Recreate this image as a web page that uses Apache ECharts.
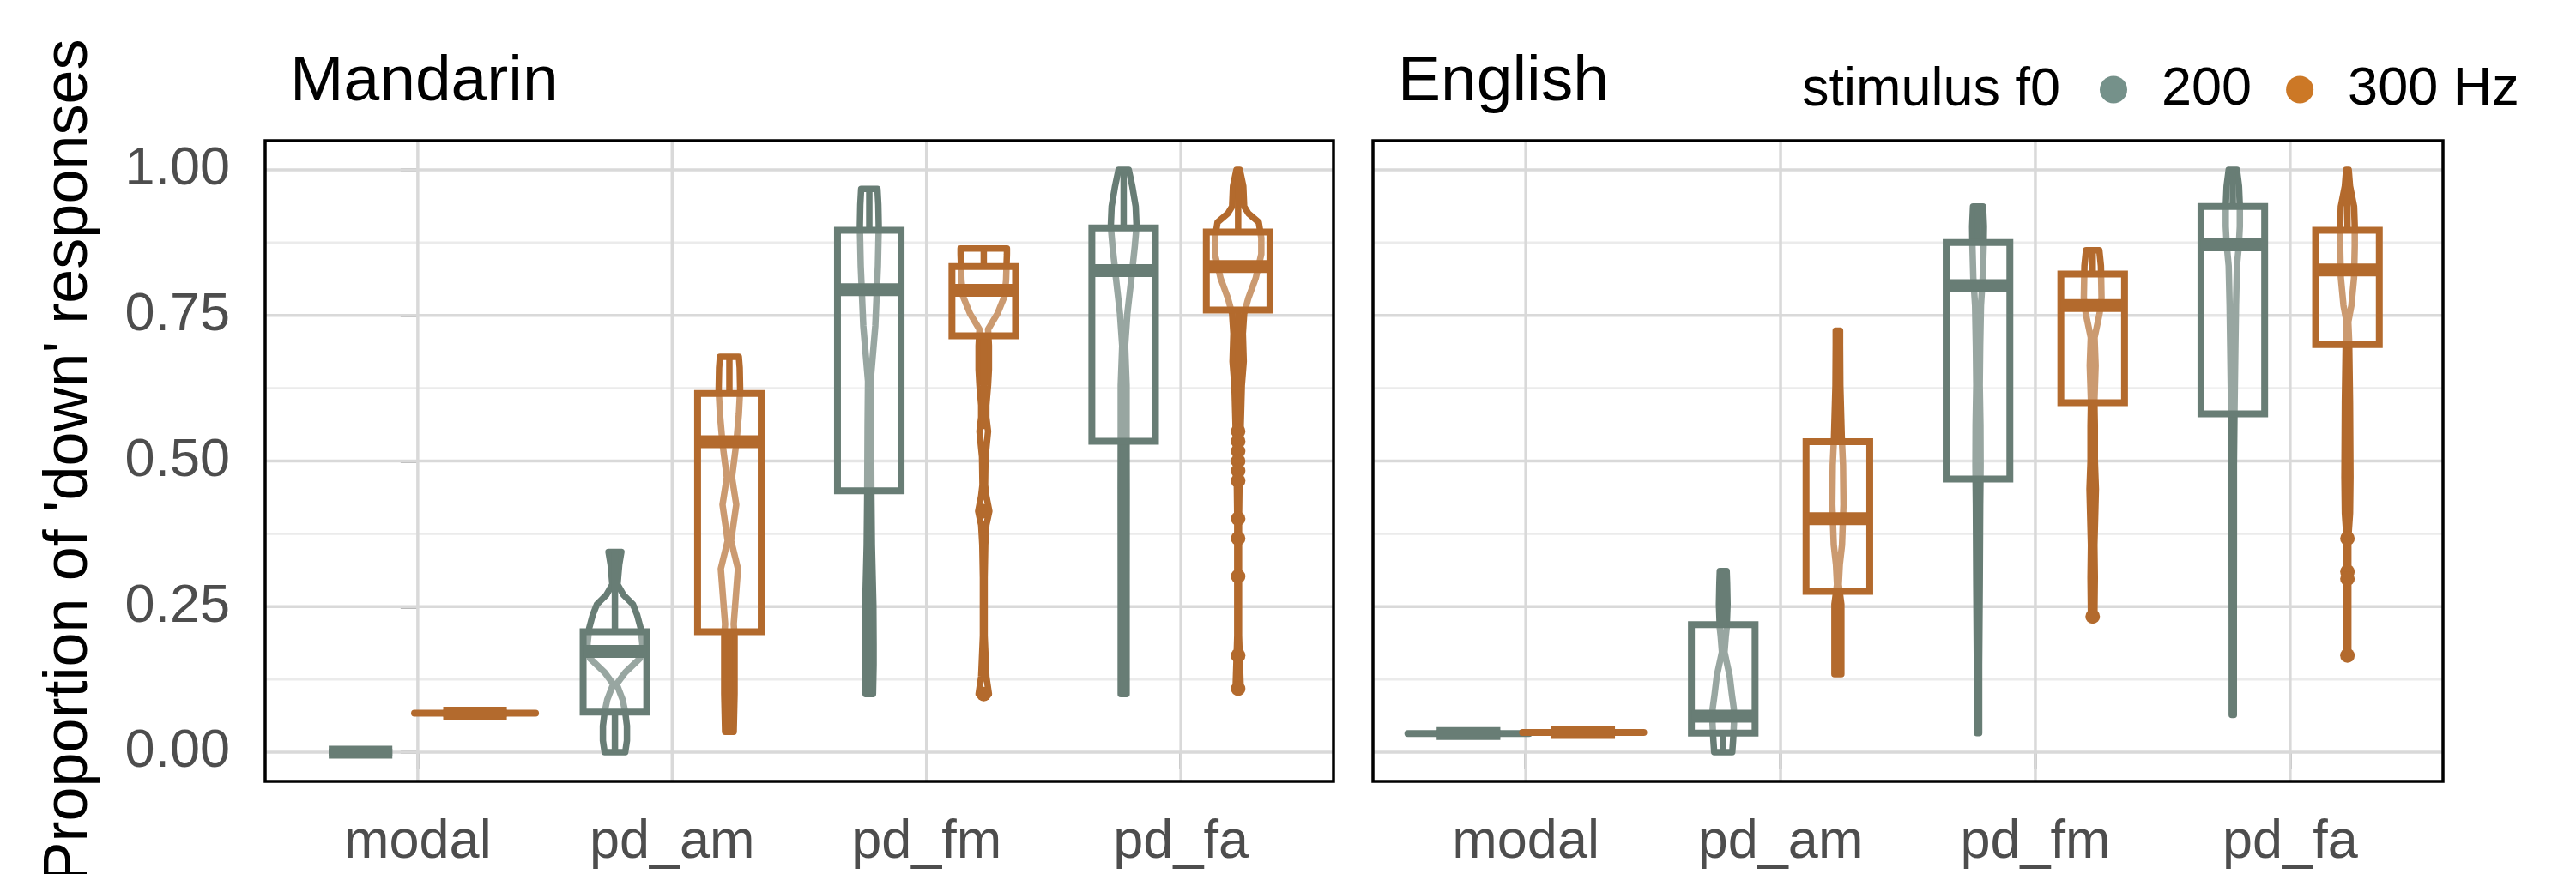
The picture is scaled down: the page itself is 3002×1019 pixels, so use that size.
<!DOCTYPE html>
<html>
<head>
<meta charset="utf-8">
<script src="https://cdn.jsdelivr.net/npm/echarts@6/dist/echarts.min.js"></script>
<style>
html,body{margin:0;padding:0;background:#ffffff;}
#chart{width:3002px;height:1019px;}
</style>
</head>
<body>
<div id="chart"></div>
<script>
// ---------------- DATA ----------------
const categories = ['modal', 'pd_am', 'pd_fm', 'pd_fa'];
const panels = ['Mandarin', 'English'];
const frequencies = ['200', '300 Hz'];
const yTicks = [0, 0.25, 0.5, 0.75, 1];
const yMinorTicks = [0.125, 0.375, 0.625, 0.875];
const xLimits = [-0.6, 3.6];
const yLimits = [-0.05, 1.05];

// box stats per category: [lower whisker, Q1, median, Q3, upper whisker]
const mandarin200Box = [[0, 0, 0, 0, 0], [0, 0.069, 0.173, 0.207, 0.344], [0.1, 0.449, 0.794, 0.896, 0.967], [0.1, 0.534, 0.827, 0.900, 1.0]];
const mandarin300Box = [[0.067, 0.067, 0.067, 0.067, 0.067], [0.035, 0.207, 0.533, 0.616, 0.679], [0.555, 0.715, 0.793, 0.834, 0.865], [0.565, 0.759, 0.834, 0.893, 1.0]];
const english200Box = [[0.032, 0.032, 0.032, 0.032, 0.032], [0, 0.033, 0.062, 0.219, 0.311], [0.033, 0.469, 0.801, 0.875, 0.937], [0.064, 0.581, 0.871, 0.937, 1.0]];
const english300Box = [[0.034, 0.034, 0.034, 0.034, 0.034], [0.134, 0.276, 0.401, 0.533, 0.724], [0.28, 0.600, 0.767, 0.821, 0.862], [0.41, 0.700, 0.828, 0.896, 1.0]];

// violin profiles per category: [value, relative density half-width]
const mandarin200Violin = [
  null,
  [[0, 12], [0.02, 14], [0.045, 14], [0.069, 12], [0.09, 9], [0.117, 2], [0.137, 12], [0.161, 29], [0.185, 32], [0.213, 30], [0.235, 26], [0.254, 21], [0.27, 10], [0.288, 3], [0.305, 4], [0.322, 5], [0.344, 7.5]],
  [[0.1, 4.3], [0.15, 5], [0.185, 5], [0.254, 4.7], [0.356, 3], [0.445, 2.4], [0.561, 2], [0.637, 1.5], [0.732, 7], [0.835, 10], [0.903, 11], [0.94, 10.5], [0.967, 9.5]],
  [[0.1, 3.4], [0.2, 3.4], [0.288, 3.4], [0.452, 3.5], [0.535, 3.4], [0.63, 3.4], [0.698, 1.7], [0.753, 4.3], [0.814, 9], [0.869, 13], [0.903, 15], [0.937, 14], [0.972, 10], [1.0, 6]]
];
const mandarin300Violin = [
  [[0.067, 70.5]],
  [[0.035, 5], [0.1, 6], [0.2, 6], [0.22, 5], [0.315, 10], [0.363, 2], [0.425, 8], [0.472, 3], [0.53, 8], [0.58, 11], [0.623, 12.5], [0.66, 12], [0.679, 11]],
  [[0.1, 6], [0.13, 3], [0.2, 1], [0.3, 1], [0.356, 1.7], [0.39, 3], [0.414, 6.5], [0.44, 3], [0.459, 1.5], [0.507, 2], [0.551, 5], [0.575, 3], [0.596, 3], [0.63, 5], [0.657, 6], [0.698, 6], [0.726, 5], [0.753, 16], [0.782, 24], [0.81, 26], [0.834, 26.5], [0.855, 27], [0.865, 27]],
  [[0.109, 3], [0.2, 1], [0.3, 1], [0.4, 1], [0.459, 1.5], [0.5, 2], [0.561, 3], [0.63, 4.3], [0.671, 6.5], [0.719, 5.5], [0.753, 7], [0.78, 12], [0.814, 20.5], [0.855, 27], [0.883, 27], [0.91, 24], [0.925, 12], [0.937, 7], [0.972, 6], [1.0, 2]]
];
const english200Violin = [
  [[0.032, 70.5]],
  [[0, 10.5], [0.021, 11.5], [0.05, 12.5], [0.075, 12.3], [0.1, 10], [0.131, 7.5], [0.172, 1.5], [0.2, 3], [0.213, 4], [0.254, 5], [0.29, 4.5], [0.311, 4]],
  [[0.033, 1.3], [0.151, 1.3], [0.288, 2], [0.425, 2.5], [0.493, 3], [0.561, 2.8], [0.63, 2], [0.698, 2.5], [0.767, 3.4], [0.815, 5.5], [0.869, 6.5], [0.903, 6.8], [0.937, 5.8]],
  [[0.064, 1.2], [0.22, 1.2], [0.356, 1.3], [0.493, 1.3], [0.589, 2], [0.698, 3], [0.767, 3.7], [0.835, 4.8], [0.869, 7], [0.903, 8.2], [0.937, 8.2], [0.972, 7.2], [1.0, 4.8]]
];
const english300Violin = [
  [[0.034, 70.5]],
  [[0.134, 4], [0.2, 4], [0.254, 4], [0.288, 1], [0.322, 2.2], [0.356, 4.8], [0.425, 6.5], [0.493, 6], [0.541, 4.5], [0.63, 2.8], [0.7, 2.5], [0.724, 2.5]],
  [[0.233, 2], [0.3, 2.5], [0.356, 2], [0.452, 3.7], [0.5, 2.5], [0.561, 2.5], [0.602, 2], [0.664, 3.4], [0.712, 2.2], [0.753, 8], [0.78, 10.3], [0.835, 9.6], [0.862, 7.7]],
  [[0.166, 1], [0.25, 1], [0.3, 1], [0.367, 1], [0.41, 3], [0.472, 3.5], [0.6, 3], [0.705, 2], [0.739, 1], [0.767, 4.6], [0.815, 7.7], [0.869, 8.5], [0.903, 8.5], [0.937, 7.7], [0.972, 3], [1.0, 1.5]]
];

// outliers: [category index, value]
const mandarin200Outliers = [];
const mandarin300Outliers = [[2, 0.414], [2, 0.1], [3, 0.551], [3, 0.534], [3, 0.517], [3, 0.5], [3, 0.483], [3, 0.466], [3, 0.401], [3, 0.367], [3, 0.302], [3, 0.166], [3, 0.109]];
const english200Outliers = [];
const english300Outliers = [[2, 0.233], [3, 0.367], [3, 0.31], [3, 0.298], [3, 0.166]];

// ---------------- STYLE ----------------
const FONT = '"Liberation Sans", Arial, Helvetica, sans-serif';
const seriesColors = ['#687d75', '#b36a2d'];
const legendColors = ['#75918a', '#cc7826'];
const DODGE = 0.225;        // category units
const BOX_HALF = 0.125;     // category units
const DENSITY_SCALE = 0.003374; // density -> category units
const BOX_FILL = 'rgba(255,255,255,0.32)';
const gridBoxes = [
  { left: 309, top: 164, width: 1245, height: 747 },
  { left: 1600, top: 164, width: 1247, height: 747 }
];

const panelSets = [
  { boxes: [mandarin200Box, mandarin300Box], violins: [mandarin200Violin, mandarin300Violin], outliers: [mandarin200Outliers, mandarin300Outliers] },
  { boxes: [english200Box, english300Box], violins: [english200Violin, english300Violin], outliers: [english200Outliers, english300Outliers] }
];

function gridLineSeries(k) {
  return {
    type: 'custom', xAxisIndex: k, yAxisIndex: k, silent: true, z: 1,
    data: [[0, 0]], encode: { x: 0, y: 1 },
    renderItem: function (params, api) {
      const children = [];
      const mk = (a, b, col, w) => ({ type: 'line', shape: { x1: a[0], y1: a[1], x2: b[0], y2: b[1] }, style: { stroke: col, lineWidth: w } });
      yMinorTicks.forEach(v => children.push(mk(api.coord([xLimits[0], v]), api.coord([xLimits[1], v]), '#ebebeb', 2.5)));
      yTicks.forEach(v => children.push(mk(api.coord([xLimits[0], v]), api.coord([xLimits[1], v]), '#d9d9d9', 3.5)));
      categories.forEach((c, i) => children.push(mk(api.coord([i, yLimits[0]]), api.coord([i, yLimits[1]]), '#d9d9d9', 3.5)));
      return { type: 'group', children };
    }
  };
}

function frameSeries(k) {
  return {
    type: 'custom', xAxisIndex: k, yAxisIndex: k, silent: true, z: 20,
    data: [[0, 0]], encode: { x: 0, y: 1 },
    renderItem: function (params, api) {
      const a = api.coord([xLimits[0], yLimits[1]]);
      const b = api.coord([xLimits[1], yLimits[0]]);
      return { type: 'rect', shape: { x: a[0], y: a[1], width: b[0] - a[0], height: b[1] - a[1] }, style: { fill: 'none', stroke: '#000', lineWidth: 3.5 } };
    }
  };
}

function violinBoxSeries(k, f) {
  const set = panelSets[k];
  const box = set.boxes[f], violin = set.violins[f], outl = set.outliers[f];
  const color = seriesColors[f];
  const offset = f === 0 ? -DODGE : DODGE;
  return {
    type: 'custom', name: frequencies[f], xAxisIndex: k, yAxisIndex: k, z: 5, silent: true,
    itemStyle: { color: color },
    data: categories.map((c, i) => [i, box[i][2]]),
    encode: { x: 0, y: 1 },
    renderItem: function (params, api) {
      const i = api.value(0);
      const xc = i + offset;
      const children = [];
      const prof = violin[i];
      if (prof && prof.length > 1) {
        const right = prof.map(p => api.coord([xc + p[1] * DENSITY_SCALE, p[0]]));
        const left = prof.slice().reverse().map(p => api.coord([xc - p[1] * DENSITY_SCALE, p[0]]));
        children.push({ type: 'polygon', shape: { points: right.concat(left) }, style: { fill: 'none', stroke: color, lineWidth: 7.5, lineJoin: 'round' } });
      } else if (prof && prof.length === 1) {
        const a = api.coord([xc - prof[0][1] * DENSITY_SCALE, prof[0][0]]);
        const b = api.coord([xc + prof[0][1] * DENSITY_SCALE, prof[0][0]]);
        children.push({ type: 'line', shape: { x1: a[0], y1: a[1], x2: b[0], y2: b[1] }, style: { stroke: color, lineWidth: 8, lineCap: 'round' } });
      }
      outl.filter(o => o[0] === i).forEach(o => {
        const p = api.coord([xc, o[1]]);
        children.push({ type: 'circle', shape: { cx: p[0], cy: p[1], r: 8.5 }, style: { fill: color } });
      });
      const s = box[i];
      const w1 = api.coord([xc, s[3]]), w2 = api.coord([xc, s[4]]);
      const w3 = api.coord([xc, s[0]]), w4 = api.coord([xc, s[1]]);
      children.push({ type: 'line', shape: { x1: w1[0], y1: w1[1], x2: w2[0], y2: w2[1] }, style: { stroke: color, lineWidth: 7.5 } });
      children.push({ type: 'line', shape: { x1: w3[0], y1: w3[1], x2: w4[0], y2: w4[1] }, style: { stroke: color, lineWidth: 7.5 } });
      const tl = api.coord([xc - BOX_HALF, s[3]]), br = api.coord([xc + BOX_HALF, s[1]]);
      children.push({ type: 'rect', shape: { x: tl[0], y: tl[1], width: br[0] - tl[0], height: br[1] - tl[1] }, style: { fill: BOX_FILL, stroke: color, lineWidth: 8 } });
      const m1 = api.coord([xc - BOX_HALF, s[2]]), m2 = api.coord([xc + BOX_HALF, s[2]]);
      children.push({ type: 'line', shape: { x1: m1[0], y1: m1[1], x2: m2[0], y2: m2[1] }, style: { stroke: color, lineWidth: 15 } });
      return { type: 'group', children };
    }
  };
}

const series = [];
panels.forEach((p, k) => {
  series.push(gridLineSeries(k));
  series.push(violinBoxSeries(k, 0));
  series.push(violinBoxSeries(k, 1));
  series.push(frameSeries(k));
});

const catIdx = categories.map((c, i) => i);

const option = {
  animation: false,
  backgroundColor: '#ffffff',
  textStyle: { fontFamily: FONT },
  title: [
    { text: panels[0], left: 338, top: 59, padding: 0, textStyle: { fontSize: 75, lineHeight: 75, fontWeight: 'normal', color: '#000', fontFamily: FONT } },
    { text: panels[1], left: 1629, top: 59, padding: 0, textStyle: { fontSize: 75, lineHeight: 75, fontWeight: 'normal', color: '#000', fontFamily: FONT } },
    { text: 'stimulus f0', left: 2100, top: 74, padding: 0, textStyle: { fontSize: 63, lineHeight: 63, fontWeight: 'normal', color: '#000', fontFamily: FONT } }
  ],
  legend: {
    left: 2447, top: 73, padding: 0, icon: 'circle', itemWidth: 32, itemHeight: 32, itemGap: 40,
    selectedMode: false,
    textStyle: { fontSize: 63, lineHeight: 63, color: '#000', fontFamily: FONT, padding: [0, 0, 0, 35] },
    data: frequencies.map((n, f) => ({ name: n, itemStyle: { color: legendColors[f] } }))
  },
  grid: gridBoxes.map(g => Object.assign({ show: false, containLabel: false, outerBoundsMode: 'none' }, g)),
  xAxis: panels.map((p, k) => ({
    type: 'value', gridIndex: k, min: xLimits[0], max: xLimits[1],
    axisLine: { show: false }, splitLine: { show: false },
    axisTick: { show: true, inside: false, length: 20, customValues: catIdx, lineStyle: { color: '#a3a3a3', width: 3.5 } },
    axisLabel: { show: true, customValues: catIdx, margin: 40, fontSize: 63, lineHeight: 63, color: '#4d4d4d', fontFamily: FONT,
      formatter: v => categories[Math.round(v)] }
  })),
  yAxis: panels.map((p, k) => ({
    type: 'value', gridIndex: k, min: yLimits[0], max: yLimits[1],
    axisLine: { show: false }, splitLine: { show: false },
    name: k === 0 ? "Proportion of 'down' responses" : '',
    nameLocation: 'middle', nameRotate: 90, nameGap: 192,
    nameTextStyle: { fontSize: 72, lineHeight: 72, color: '#000', fontFamily: FONT },
    axisTick: { show: k === 0, inside: false, length: 20, customValues: yTicks, lineStyle: { color: '#a3a3a3', width: 3.5 } },
    axisLabel: { show: k === 0, customValues: yTicks, margin: 41, fontSize: 63, lineHeight: 63, color: '#4d4d4d', fontFamily: FONT,
      formatter: v => v.toFixed(2) }
  })),
  series: series
};

const chart = echarts.init(document.getElementById('chart'));
chart.setOption(option);
</script>
</body>
</html>
